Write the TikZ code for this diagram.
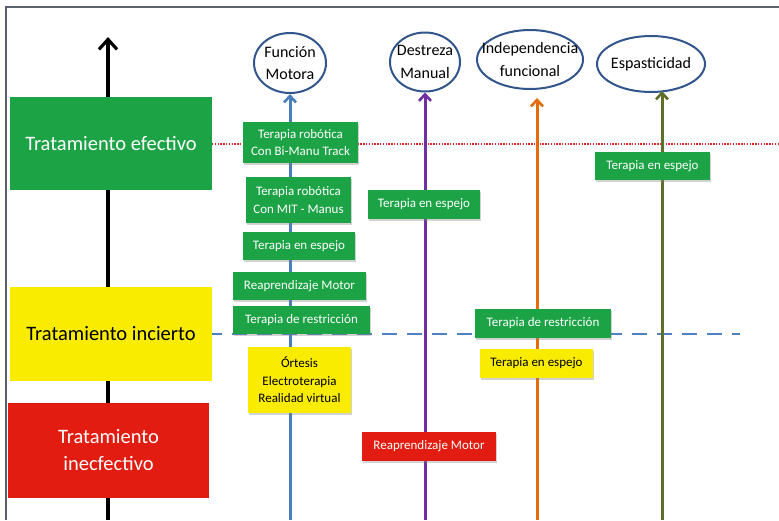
\documentclass[tikz,border=0pt]{standalone}
\usepackage{fontspec}
\setmainfont{Carlito}
\usetikzlibrary{arrows.meta,shadows,shapes.geometric}
\definecolor{gbox}{RGB}{28,163,70}
\definecolor{ybox}{RGB}{250,236,0}
\definecolor{rbox}{RGB}{226,28,16}
\definecolor{frame}{RGB}{90,95,110}
\definecolor{ell}{RGB}{50,85,140}
\definecolor{lblue}{RGB}{74,126,187}
\definecolor{lpurple}{RGB}{112,48,160}
\definecolor{lorange}{RGB}{228,108,10}
\definecolor{lolive}{RGB}{95,110,40}
\definecolor{dashblue}{RGB}{80,130,195}
\definecolor{dotred}{RGB}{220,40,40}
\tikzset{
  box/.style={rectangle, inner sep=1pt, align=center, font=\fontsize{13}{17.5}\selectfont,
    drop shadow={shadow xshift=1.2pt, shadow yshift=-1.5pt, opacity=0.35}},
  gbx/.style={box, fill=gbox, text=white},
  ybx/.style={box, fill=ybox, text=black},
  rbx/.style={box, fill=rbox, text=white},
  bigbox/.style={rectangle, inner sep=0pt, align=center, font=\fontsize{20.5}{27}\selectfont},
  outc/.style={ellipse, draw=ell, line width=2pt, fill=white, inner sep=0pt},
  outt/.style={align=center, inner sep=0pt, font=\fontsize{16}{22.5}\selectfont},
  vline/.style={line width=3pt, -{Straight Barb[length=6.5pt,width=12pt,line width=2.6pt]}},
}
\begin{document}
\begin{tikzpicture}[x=1pt,y=-1pt]
\useasboundingbox (0,0) rectangle (779,520);
\fill[white] (0,0) rectangle (779,520);
% frame
\draw[frame, line width=2pt] (6,520) -- (6,6.5) -- (779,6.5);
% axis
\coordinate (axb) at (108,520);
\coordinate (axt) at (108,37);
\draw[line width=3.2pt, -{Straight Barb[length=10pt,width=18pt,line width=3.2pt]}] (axb) -- (axt);
% reference lines
\coordinate (dotA) at (212,144);
\coordinate (dotB) at (779,144);
\draw[dotred, line width=1.4pt, dash pattern=on 1.4pt off 1.4pt] (dotA) -- (dotB);
\coordinate (dashA) at (212,334);
\coordinate (dashB) at (740,334);
\draw[dashblue, line width=2.4pt, dash pattern=on 15pt off 10pt, dash phase=5pt] (dashA) -- (dashB);
% outcome ellipses
\node[outc, minimum width=72pt, minimum height=60pt] (fm) at (290,63) {};
\node[outt] (fmt) at (fm.center) {Función\\Motora};
\node[outc, minimum width=70pt, minimum height=59pt] (dm) at (425,62) {};
\node[outt] (dmt) at (dm.center) {Destreza\\Manual};
\node[outc, minimum width=106pt, minimum height=59pt] (ifn) at (530,59.5) {};
\node[outt] (ifnt) at (ifn.center) {Independencia\\funcional};
\node[outc, minimum width=108pt, minimum height=56pt] (esp) at (651,64) {};
\node[outt] (espt) at (esp.center) {Espasticidad};
% vertical arrows
\coordinate (fmb) at (290,520);
\coordinate (dmb) at (425,520);
\coordinate (ifb) at (537,520);
\coordinate (ift) at (537,98);
\coordinate (espb) at (662,520);
\coordinate (espt2) at (662,91);
\draw[vline, lblue] (fmb) -- (fm.south);
\draw[vline, lpurple] (dmb) -- (dm.south);
\draw[vline, lorange] (ifb) -- (ift);
\draw[vline, lolive] (espb) -- (espt2);
% left category boxes
\node[bigbox, fill=gbox, text=white, minimum width=202pt, minimum height=93pt] (efe) at (111,143.5) {Tratamiento efectivo};
\node[bigbox, fill=ybox, text=black, minimum width=202pt, minimum height=94pt] (inc) at (111,334) {Tratamiento incierto};
\node[bigbox, fill=rbox, text=white, minimum width=201pt, minimum height=95pt] (ine) at (108.5,450.5) {Tratamiento\\inecfectivo};
% Funcion motora column
\node[gbx, minimum width=115pt, minimum height=41pt] (b1) at (300.5,142.5) {Terapia robótica\\Con Bi-Manu Track};
\node[gbx, minimum width=105pt, minimum height=46pt] (b2) at (298.5,200) {Terapia robótica\\Con MIT - Manus};
\node[gbx, minimum width=112pt, minimum height=28pt] (b3) at (299,246) {Terapia en espejo};
\node[gbx, minimum width=133pt, minimum height=28pt] (b4) at (299.5,286) {Reaprendizaje Motor};
\node[gbx, minimum width=137pt, minimum height=28pt] (b5) at (301.5,320) {Terapia de restricción};
\node[ybx, minimum width=103pt, minimum height=66pt] (b6) at (299.5,380) {Órtesis\\Electroterapia\\Realidad virtual};
% Destreza manual column
\node[gbx, minimum width=112pt, minimum height=29pt] (b7) at (424,204.5) {Terapia en espejo};
\node[rbx, minimum width=134pt, minimum height=29pt] (b10) at (429,446.5) {Reaprendizaje Motor};
% Independencia funcional column
\node[gbx, minimum width=136pt, minimum height=29pt] (b8) at (543,323.5) {Terapia de restricción};
\node[ybx, minimum width=113pt, minimum height=29pt] (b9) at (536.5,363.5) {Terapia en espejo};
% Espasticidad column
\node[gbx, minimum width=115pt, minimum height=28pt] (b11) at (652.5,166) {Terapia en espejo};
\end{tikzpicture}
\end{document}
